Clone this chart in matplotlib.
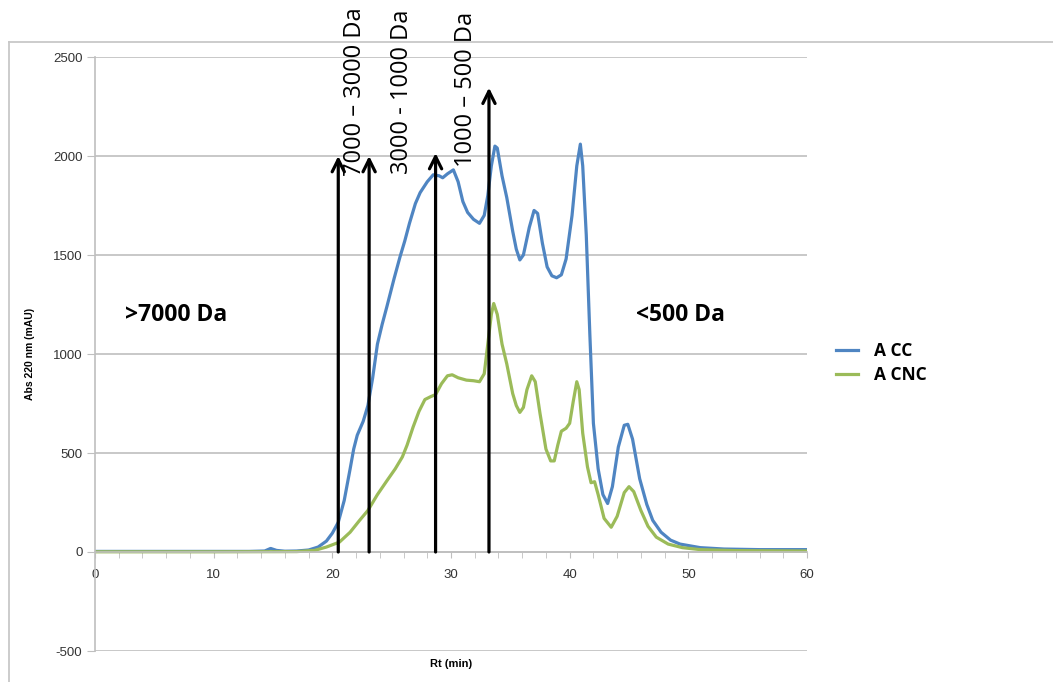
import numpy as np
import matplotlib
matplotlib.use('Agg')
import matplotlib.pyplot as plt
from matplotlib.lines import Line2D

plt.rcParams['font.family'] = ['Liberation Sans', 'DejaVu Sans']
plt.rcParams['axes.unicode_minus'] = False

# A CC trace (blue)
rt_cc = [0, 5, 10, 13, 14.3, 14.8, 15.3, 16, 17, 18, 18.8, 19.5, 20, 20.5, 21, 21.5, 21.8,
         22.1, 22.6, 23.0, 23.4, 23.8, 24.2, 24.6, 25.2, 25.7, 26.1, 26.5, 27.0, 27.4, 28.0,
         28.5, 29.0, 29.3, 29.7, 30.2, 30.6, 31.0, 31.4, 31.9, 32.4, 32.8, 33.1, 33.4, 33.7,
         33.9, 34.3, 34.7, 35.2, 35.5, 35.8, 36.1, 36.6, 37.0, 37.3, 37.7, 38.1, 38.5, 38.9,
         39.3, 39.7, 40.2, 40.6, 40.9, 41.1, 41.4, 41.7, 42.0, 42.4, 42.8, 43.2, 43.6, 44.1,
         44.6, 44.9, 45.3, 45.9, 46.5, 47.0, 47.7, 48.5, 49.3, 51, 53, 56, 60]
abs_cc = [3, 3, 3, 3, 5, 18, 8, 4, 5, 10, 25, 55, 95, 150, 260, 420, 520,
          590, 660, 740, 880, 1050, 1150, 1240, 1380, 1490, 1570, 1660, 1760, 1815, 1870,
          1905, 1900, 1890, 1910, 1930, 1870, 1770, 1715, 1680, 1660, 1700, 1800, 1950, 2050,
          2040, 1900, 1790, 1620, 1530, 1475, 1500, 1640, 1725, 1710, 1560, 1440, 1395, 1385,
          1400, 1480, 1700, 1950, 2060, 1950, 1600, 1100, 650, 420, 290, 245, 330, 530,
          640, 645, 570, 370, 240, 160, 100, 60, 40, 22, 15, 12, 12]

# A CNC trace (green)
rt_cnc = [0, 10, 17, 18.5, 19.5, 20.6, 21.5, 22.3, 23.0, 23.8, 24.6, 25.3, 25.9, 26.3, 26.8,
          27.3, 27.8, 28.3, 28.7, 29.2, 29.7, 30.1, 30.6, 31.3, 31.9, 32.4, 32.8, 33.1, 33.4,
          33.6, 33.9, 34.3, 34.7, 35.2, 35.5, 35.8, 36.1, 36.4, 36.8, 37.1, 37.5, 38.0, 38.4,
          38.7, 39.0, 39.3, 39.7, 40.0, 40.3, 40.6, 40.8, 41.1, 41.5, 41.8, 42.1, 42.4, 42.9,
          43.5, 44.0, 44.6, 45.0, 45.4, 46.0, 46.6, 47.3, 48.3, 49.5, 51, 54, 60]
abs_cnc = [1, 1, 2, 8, 25, 50, 100, 160, 210, 290, 360, 420, 480, 540, 630,
           710, 770, 785, 795, 850, 890, 895, 880, 868, 865, 860, 900, 1050, 1200,
           1255, 1200, 1050, 950, 800, 740, 705, 730, 820, 890, 860, 700, 520, 460,
           460, 540, 610, 625, 650, 760, 860, 820, 600, 430, 350, 355, 290, 170,
           125, 180, 300, 330, 305, 210, 130, 75, 40, 22, 12, 7, 5]

# fraction cut-offs: arrow position (min), arrow top (mAU), label
arrow_rt = [20.5, 23.1, 28.7, 33.2]
arrow_top = [2000, 2000, 2015, 2345]
label_rt = [21.9, 25.9, 31.3]
label_y = [1900, 1910, 1945]
labels = ['7000 \u2013 3000 Da', '3000 - 1000 Da', '1000 \u2013 500 Da']

blue = '#4F85C2'
green = '#9BBB59'

fig = plt.figure(figsize=(10.53, 6.82), dpi=100)
ax = fig.add_axes([95 / 1053, 1 - 651 / 682, 712 / 1053, 594 / 682])

ax.plot(rt_cc, abs_cc, color=blue, lw=2.3, label='A CC', solid_joinstyle='round')
ax.plot(rt_cnc, abs_cnc, color=green, lw=2.3, label='A CNC', solid_joinstyle='round')

ax.set_xlim(0, 60)
ax.set_ylim(-500, 2500)
ax.set_yticks(np.arange(-500, 2501, 500))
ax.set_xticks(np.arange(0, 61, 10))
ax.set_xticks(np.arange(0, 61, 2), minor=True)
ax.yaxis.grid(True, color='#BFBFBF', lw=1.2)
ax.set_axisbelow(True)

for s in ['top', 'right']:
    ax.spines[s].set_visible(False)
ax.spines['left'].set_color('#BFBFBF')
ax.spines['left'].set_linewidth(1.2)
ax.spines['bottom'].set_position(('data', 0))
ax.spines['bottom'].set_color('#BFBFBF')
ax.spines['bottom'].set_linewidth(1.2)
ax.tick_params(axis='y', length=6, color='#BFBFBF', labelsize=9.5, labelcolor='#333333', pad=3)
ax.tick_params(axis='x', which='both', direction='out', length=4, color='#BFBFBF',
               labelsize=9.5, labelcolor='#333333', pad=8)

ax.set_ylabel('Abs 220 nm (mAU)', fontsize=7.5, fontweight='bold')
ax.yaxis.set_label_coords(-0.084, 0.5)
ax.set_xlabel('Rt (min)', fontsize=8, fontweight='bold')
ax.xaxis.set_label_coords(0.5, -0.013)

for x, top in zip(arrow_rt, arrow_top):
    ax.annotate('', xy=(x, top), xytext=(x, 0),
                arrowprops=dict(arrowstyle='->', lw=2.3, color='black', mutation_scale=22,
                                shrinkA=0, shrinkB=0))

for x, y, t in zip(label_rt, label_y, labels):
    ax.text(x, y, t, rotation=90, ha='center', va='bottom', fontsize=17,
            family='Open Sans', color='black')

ax.text(6.8, 1195, '>7000 Da', ha='center', va='center', fontsize=16.5, fontweight='bold',
        family='Open Sans')
ax.text(49.3, 1195, '<500 Da', ha='center', va='center', fontsize=16.5, fontweight='bold',
        family='Open Sans')

leg = ax.legend(loc='center left', bbox_to_anchor=(820 / 1053, 1 - 363 / 682),
                bbox_transform=fig.transFigure, frameon=False, handlelength=1.3,
                handletextpad=0.9, prop=dict(family='Open Sans', weight='bold', size=12.5),
                labelspacing=0.35)

# outer chart frame
fig.add_artist(Line2D([9 / 1053, 1], [1 - 42 / 682, 1 - 42 / 682], color='#C8C8C8', lw=1.3))
fig.add_artist(Line2D([9 / 1053, 9 / 1053], [0, 1 - 42 / 682], color='#C8C8C8', lw=1.3))

fig.savefig('out.png', dpi=100)
